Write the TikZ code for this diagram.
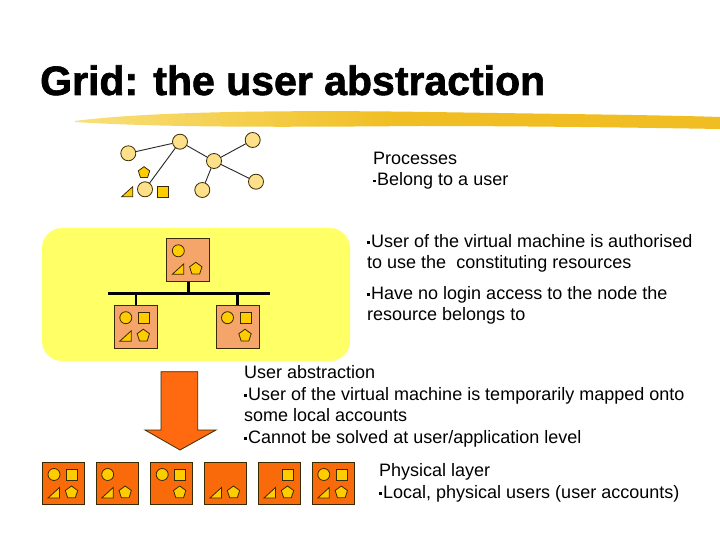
\documentclass[tikz,border=0pt]{standalone}
\usepackage{fontspec}
\setmainfont{Liberation Sans}
\newfontfamily\titlefont{Liberation Sans}[BoldFeatures={FakeBold=1.6}]
\usetikzlibrary{shapes.geometric,calc}
\definecolor{ylbg}{HTML}{FFFF66}
\definecolor{salm}{HTML}{F5A46A}
\definecolor{dorange}{HTML}{F96B0A}
\definecolor{arrowc}{HTML}{FF6A10}
\definecolor{gold}{HTML}{FFCC00}
\definecolor{lgold}{HTML}{FFE08A}
\definecolor{edgec}{HTML}{3A2A00}
\definecolor{brushA}{HTML}{F9E07A}
\definecolor{brushB}{HTML}{F0BE22}
\tikzset{
 hostA/.style={draw=edgec, line width=1pt, fill=salm, minimum size=43pt, inner sep=0, rectangle},
 hostB/.style={draw=edgec, line width=1pt, fill=dorange, minimum size=42pt, inner sep=0, rectangle},
 shp/.style={draw=edgec, line width=0.8pt, fill=gold, inner sep=0},
 proc/.style={circle, draw=edgec, line width=0.8pt, fill=lgold, minimum size=15pt, inner sep=0},
 txt/.style={anchor=north west, inner sep=0, align=left, font=\fontsize{18}{21.5}\selectfont},
 busline/.style={line width=2.5pt, black},
 treeedge/.style={line width=0.9pt, black!85},
}
\newcommand\bul{\raisebox{3.3pt}{\rule{2.8pt}{2.8pt}}\hspace{1.2pt}}
\newcommand\stp{\rule{0pt}{13pt}}
\newcommand\shC[1]{\node[shp,circle,minimum size=12pt] (#1-c) at ($(#1.north west)+(12,12.5)$) {};}
\newcommand\shS[1]{\node[shp,rectangle,minimum size=11pt] (#1-s) at ($(#1.north west)+(30,13)$) {};}
\newcommand\shP[1]{\node[shp,regular polygon,regular polygon sides=5,minimum size=13pt] (#1-p) at ($(#1.north west)+(29.5,30.5)$) {};}
\newcommand\shT[1]{\draw[shp] ($(#1.north west)+(6,36)$) -- ++(11.5,0) -- ++(0,-10.5) -- cycle;}
\begin{document}
\begin{tikzpicture}[x=1pt,y=-1pt]
\useasboundingbox (0,0) rectangle (720,540);
\fill[white] (0,0) rectangle (720,540);
% title
\node[anchor=base west, inner sep=0, font=\fontsize{41}{48}\titlefont\bfseries] (title) at (40,95) {Grid: the user abstraction};
% brush stroke
\shade[left color=brushA, right color=brushB, middle color=brushB]
  (75,121) .. controls (150,111) and (300,110) .. (430,112)
  .. controls (560,114) and (660,115) .. (720,117)
  -- (720,129) .. controls (600,127) and (500,126) .. (420,126)
  .. controls (300,127) and (170,128) .. (75,122) -- cycle;
% top process graph
\node[proc] (A) at (128.3,153.3) {};
\node[proc] (B) at (180,141.7) {};
\node[proc] (C) at (252.7,140) {};
\node[proc] (D) at (214,161) {};
\node[proc] (E) at (256,181.7) {};
\node[proc] (F) at (202.3,190) {};
\node[proc] (G) at (145,189.3) {};
\draw[treeedge] (A) -- (B);
\draw[treeedge] (B) -- (G);
\draw[treeedge] (B) -- (D);
\draw[treeedge] (D) -- (C);
\draw[treeedge] (D) -- (E);
\draw[treeedge] (D) -- (F);
\node[shp,regular polygon,regular polygon sides=5,minimum size=12pt] (Gp) at (144,172.7) {};
\draw[shp] (121.7,196.7) -- (132.7,196.7) -- (132.7,186.7) -- cycle;
\node[shp,rectangle,minimum size=11pt] (Gs) at (162.5,192.2) {};
% yellow virtual machine region
\fill[ylbg, rounded corners=20pt] (42,228) rectangle (350,361);
\node[hostA] (tb) at (188.3,260.3) {};
\node[hostA] (lb) at (135.8,327.2) {};
\node[hostA] (rb) at (237.5,327.2) {};
\shC{tb}\shT{tb}\shP{tb}
\shC{lb}\shS{lb}\shT{lb}\shP{lb}
\shC{rb}\shS{rb}\shP{rb}
\coordinate (busL) at (108,293.3);
\coordinate (busR) at (270,293.3);
\draw[busline] (busL) -- (busR);
\draw[busline] (tb.south) -- (tb.south |- busL);
\draw[busline] (lb.north) -- (lb.north |- busL);
\draw[busline] (rb.north) -- (rb.north |- busL);
% arrow
\filldraw[fill=arrowc, draw=edgec, line width=0.8pt]
  (161,371.7) -- (197.7,371.7) -- (197.7,430) -- (216,430) -- (180,450) -- (145,430) -- (161,430) -- cycle;
% physical layer
\node[hostB] (b1) at (63.5,483.5) {};
\node[hostB] (b2) at (117.2,483.5) {};
\node[hostB] (b3) at (171.7,483.5) {};
\node[hostB] (b4) at (225.5,483.5) {};
\node[hostB] (b5) at (279.5,483.5) {};
\node[hostB] (b6) at (333.3,483.5) {};
\shC{b1}\shS{b1}\shT{b1}\shP{b1}
\shC{b2}\shT{b2}\shP{b2}
\shC{b3}\shS{b3}\shP{b3}
\shT{b4}\shP{b4}
\shS{b5}\shT{b5}\shP{b5}
\shC{b6}\shS{b6}\shT{b6}\shP{b6}
% texts
\node[txt] (t1) at (373,151) {\stp Processes\\\bul Belong to a user};
\node[txt] (t2) at (367,234) {\stp\bul User of the virtual machine is authorised\\to use the\ \ constituting resources};
\node[txt] (t3) at (367,286) {\stp\bul Have no login access to the node the\\resource belongs to};
\node[txt] (t4) at (244,365.5) {\stp User abstraction\\\bul User of the virtual machine is temporarily mapped onto\\some local accounts\\\bul Cannot be solved at user/application level};
\node[txt] (t5) at (379,463.5) {\stp Physical layer\\\bul Local, physical users (user accounts)};
\end{tikzpicture}
\end{document}
